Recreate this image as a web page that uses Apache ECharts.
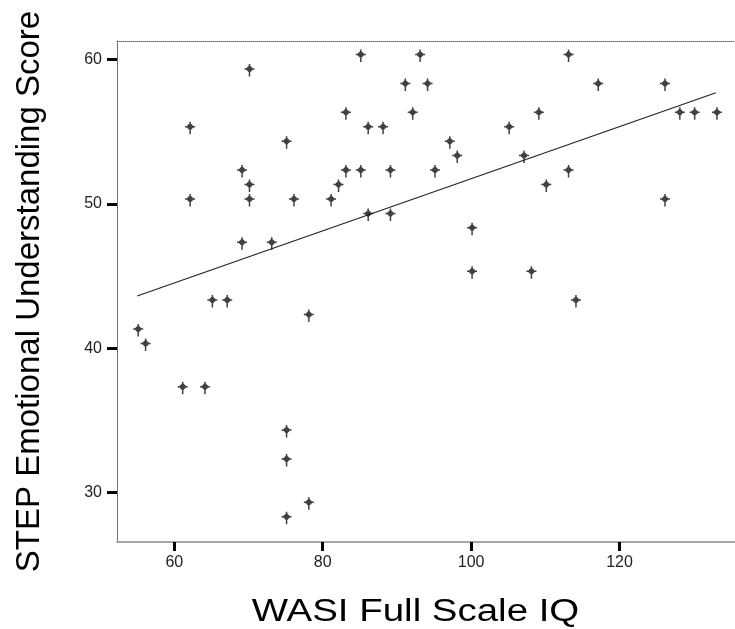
<!DOCTYPE html>
<html>
<head>
<meta charset="utf-8">
<script src="https://cdn.jsdelivr.net/npm/echarts@6/dist/echarts.min.js"></script>
<style>
  html, body { margin: 0; padding: 0; background: #fff; }
  #chart { width: 735px; height: 629px; }
</style>
</head>
<body>
<div id="chart"></div>
<script>
// WASI Full Scale IQ (x) against STEP Emotional Understanding Score (y)
const iqScores = [
  70, 85, 83, 62, 86, 88, 75, 69, 83, 85, 70, 82, 62, 70, 76, 81, 86, 69, 73,
  93, 113, 91, 94, 117, 126, 92, 109, 128, 105, 97, 98, 107, 89, 95, 113, 110,
  126, 89, 100, 100, 108, 130, 133, 114, 65, 67, 78, 55, 56, 61, 64, 75, 75, 78, 75
];
const stepScores = [
  59, 60, 56, 55, 55, 55, 54, 52, 52, 52, 51, 51, 50, 50, 50, 50, 49, 47, 47,
  60, 60, 58, 58, 58, 58, 56, 56, 56, 55, 54, 53, 53, 52, 52, 52, 51,
  50, 49, 48, 45, 45, 56, 56, 43, 43, 43, 42, 41, 40, 37, 37, 34, 32, 29, 28
];
// linear fit line endpoints (IQ, score)
const fitLine = [[55, 43.62], [133, 57.69]];

const xTicks = [60, 80, 100, 120];
const yTicks = [30, 40, 50, 60];

const xTitle = 'WASI Full Scale IQ';
const yTitle = 'STEP Emotional Understanding Score';

const points = iqScores.map((x, i) => [x, stepScores[i]]);

// scatter glyph: filled diamond crossed by a bar, with a short tail below
const glyph = 'path://M0,-4L4,0L0,4L-4,0Z' +
  'M-5,-0.75L5,-0.75L5,0.75L-5,0.75Z' +
  'M-0.75,-5L0.75,-5L0.75,7.5L-0.75,7.5Z';

const font = '"Liberation Sans", Arial, sans-serif';

const chart = echarts.init(document.getElementById('chart'), null, { renderer: 'canvas' });
chart.setOption({
  animation: false,
  backgroundColor: '#ffffff',
  grid: { left: 117, top: 41, right: 0, bottom: 87, containLabel: false },
  xAxis: [{
    type: 'value',
    min: 52.28,
    max: 135.57,
    axisLine: { show: true, onZero: false, lineStyle: { color: '#8a8a8a', width: 1.5 } },
    axisTick: { show: true, customValues: xTicks, length: 9, lineStyle: { color: '#000', width: 3 } },
    axisLabel: { customValues: xTicks, margin: 13, fontFamily: font, fontSize: 16, color: '#222' },
    splitLine: { show: false }
  }, {
    type: 'value',
    position: 'top',
    min: 52.28,
    max: 135.57,
    axisLine: { show: true, lineStyle: { color: '#666', width: 1, type: 'dotted' } },
    axisTick: { show: false },
    axisLabel: { show: false },
    splitLine: { show: false }
  }],
  yAxis: {
    type: 'value',
    min: 26.59,
    max: 61.27,
    name: yTitle,
    nameLocation: 'middle',
    nameGap: 71,
    nameTextStyle: { fontFamily: font, fontSize: 33, color: '#000' },
    axisLine: { show: true, onZero: false, lineStyle: { color: '#555', width: 1, type: 'dotted' } },
    axisTick: { show: true, customValues: yTicks, length: 10, lineStyle: { color: '#000', width: 3 } },
    axisLabel: { customValues: yTicks, margin: 15, fontFamily: font, fontSize: 16, color: '#222' },
    splitLine: { show: false }
  },
  graphic: [{
    type: 'text',
    x: 415.5,
    y: 612,
    scaleX: 1.24,
    originX: 0,
    originY: 0,
    style: {
      text: xTitle,
      x: 0,
      y: 0,
      align: 'center',
      verticalAlign: 'middle',
      fontFamily: font,
      fontSize: 31,
      fill: '#000'
    }
  }],
  series: [{
    type: 'scatter',
    data: points,
    symbol: glyph,
    symbolSize: [10, 12.5],
    symbolOffset: [1, -3.6],
    itemStyle: { color: '#111' },
    z: 3
  }, {
    type: 'line',
    data: fitLine,
    showSymbol: false,
    symbol: 'none',
    lineStyle: { color: '#222', width: 1.2 },
    z: 2
  }]
});
</script>
</body>
</html>
